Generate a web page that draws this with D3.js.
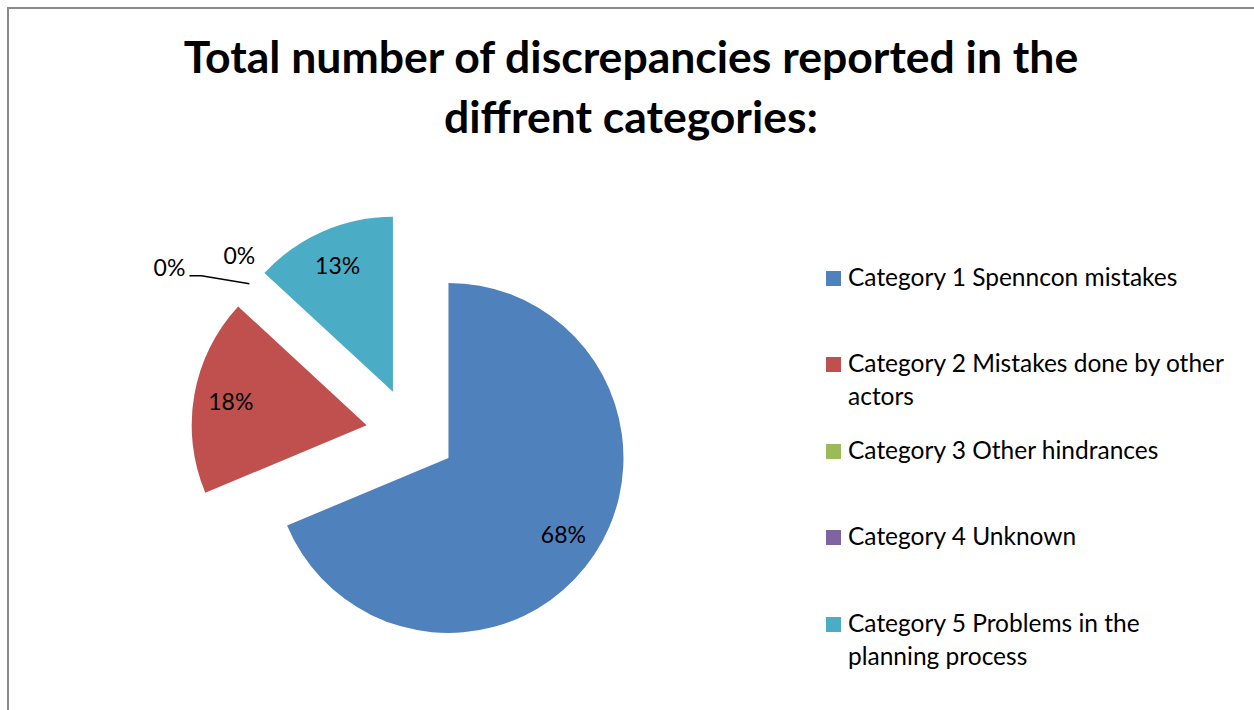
<!DOCTYPE html>
<html>
<head>
<meta charset="utf-8">
<script src="https://cdn.jsdelivr.net/npm/d3@7/dist/d3.min.js"></script>
<style>
  body { margin: 0; background: #fff; }
  svg { display: block; }
</style>
</head>
<body>
<svg id="chart" width="1254" height="710"></svg>
<script>
// Share of discrepancies per category, in percent
const categories = [
  "Category 1 Spenncon mistakes",
  "Category 2 Mistakes done by other actors",
  "Category 3 Other hindrances",
  "Category 4 Unknown",
  "Category 5 Problems in the planning process"
];
const shares = [68, 18, 0, 0, 13];
const colors = ["#4F81BD", "#C0504D", "#9BBB59", "#8064A2", "#4BACC6"];
const titleLines = ["Total number of discrepancies reported in the", "diffrent categories:"];
// Legend entries as wrapped lines
const legendLines = [
  ["Category 1 Spenncon mistakes"],
  ["Category 2 Mistakes done by other", "actors"],
  ["Category 3 Other hindrances"],
  ["Category 4 Unknown"],
  ["Category 5 Problems in the", "planning process"]
];

const svg = d3.select("#chart");
const FONT = "Lato, 'Open Sans', sans-serif";

// Frame of the chart area
svg.append("path")
  .attr("d", "M8,712 L8,8 L1256,8")
  .attr("fill", "none")
  .attr("stroke", "#8a8a8a")
  .attr("stroke-width", 2);

// Title
const title = svg.append("g").attr("font-family", FONT).attr("font-weight", "bold")
  .attr("font-size", 44.5).attr("text-anchor", "middle").attr("fill", "#000");
title.selectAll("text").data(titleLines).join("text")
  .attr("x", 631)
  .attr("y", (d, i) => 73 + i * 60)
  .text(d => d);

// Exploded pie
const cx = 411, cy = 433, R = 175, explode = 45, labelR = 138;
const pie = d3.pie().sort(null).value(d => d);
const arcs = pie(shares);
const arc = d3.arc().innerRadius(0).outerRadius(R);
const mid = a => (a.startAngle + a.endAngle) / 2;
const dir = a => [Math.sin(mid(a)), -Math.cos(mid(a))];

const pieG = svg.append("g").attr("transform", `translate(${cx},${cy})`);
const slices = pieG.selectAll("g.slice").data(arcs).join("g")
  .attr("class", "slice")
  .attr("transform", a => { const [ux, uy] = dir(a); return `translate(${ux * explode},${uy * explode})`; });

slices.filter(a => a.value > 0).append("path")
  .attr("d", arc)
  .attr("fill", a => colors[a.index]);

// Percentage labels inside the non-empty slices
const LABEL_SIZE = 23;
slices.filter(a => a.value > 0).append("text")
  .attr("font-family", FONT).attr("font-size", LABEL_SIZE)
  .attr("text-anchor", "middle").attr("dominant-baseline", "central")
  .attr("x", a => dir(a)[0] * labelR)
  .attr("y", a => dir(a)[1] * labelR)
  .text(a => a.value + "%");

// Labels for the empty slices, placed just outside the rim
const empty = arcs.filter(a => a.value === 0);
empty.forEach((a, k) => {
  const [ux, uy] = dir(a);
  const ex = ux * (R + explode), ey = uy * (R + explode);
  if (k === 0) {
    pieG.append("text")
      .attr("font-family", FONT).attr("font-size", LABEL_SIZE)
      .attr("text-anchor", "middle").attr("dominant-baseline", "central")
      .attr("x", ex - 10).attr("y", ey - 29)
      .text(a.value + "%");
  } else {
    const bx = ex - 48, by = ey - 8;
    pieG.append("polyline")
      .attr("points", `${ex},${ey} ${bx},${by} ${bx - 12},${by}`)
      .attr("fill", "none").attr("stroke", "#000").attr("stroke-width", 1.5);
    pieG.append("text")
      .attr("font-family", FONT).attr("font-size", LABEL_SIZE)
      .attr("text-anchor", "end").attr("dominant-baseline", "central")
      .attr("x", bx - 16).attr("y", by - 9)
      .text(a.value + "%");
  }
});

// Legend
const legend = svg.append("g").attr("font-family", FONT).attr("font-size", 24.5).attr("fill", "#000");
const legendY = [286, 372, 459, 545, 632];
const items = legend.selectAll("g").data(legendLines).join("g")
  .attr("transform", (d, i) => `translate(826,${legendY[i]})`);
items.append("rect")
  .attr("x", 0).attr("y", -15).attr("width", 15).attr("height", 15)
  .attr("fill", (d, i) => colors[i]);
items.append("text")
  .selectAll("tspan").data(d => d).join("tspan")
  .attr("x", 22).attr("y", (d, j) => j * 33)
  .text(d => d);
</script>
</body>
</html>
